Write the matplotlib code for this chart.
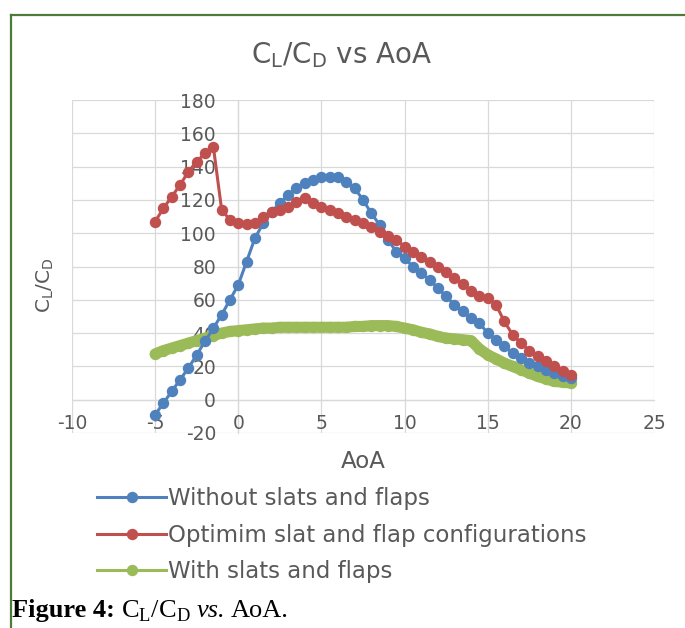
import matplotlib
matplotlib.use("Agg")
import matplotlib.pyplot as plt
from matplotlib.lines import Line2D
import numpy as np

plt.rcParams['font.family'] = ['DejaVu Sans']
plt.rcParams['axes.unicode_minus'] = False

aoa = [-5, -4.5, -4, -3.5, -3, -2.5, -2, -1.5, -1, -0.5,
       0, 0.5, 1, 1.5, 2, 2.5, 3, 3.5, 4, 4.5,
       5, 5.5, 6, 6.5, 7, 7.5, 8, 8.5, 9, 9.5,
       10, 10.5, 11, 11.5, 12, 12.5, 13, 13.5, 14, 14.5,
       15, 15.5, 16, 16.5, 17, 17.5, 18, 18.5, 19, 19.5, 20]

without_slats = [-9, -2, 5, 12, 19, 27, 35, 43, 51, 60,
                 69, 83, 97, 106, 113, 118, 123, 127, 130, 132,
                 133.5, 134, 133.5, 131, 127, 120, 112, 105, 96, 89,
                 85, 80, 76, 72, 67, 62, 57, 53, 49, 46,
                 40, 36, 32, 28, 25, 22, 20, 18, 16, 14.5, 13]

optimum = [107, 115, 122, 129, 137, 143, 148, 152, 114, 108,
           106, 105.5, 106, 110, 113, 114, 116, 118.5, 121, 118,
           116, 114, 112, 110, 108, 106, 103.5, 101, 98.5, 96,
           92, 89, 86, 83, 79.5, 76.5, 73, 69.5, 65, 62.5,
           61, 57, 47, 39, 34, 29.5, 26, 23, 20, 17, 15]

with_slats = [27.5, 29.5, 31, 32.5, 34, 35.5, 37, 38.5, 40, 41,
              41.5, 42, 42.5, 43, 43, 43.5, 43.5, 43.5, 43.5, 43.5,
              43.5, 43.5, 43.5, 43.5, 44, 44, 44.5, 44.5, 44.5, 44,
              43, 42, 40.5, 39.5, 38, 37, 36.5, 36, 35.5, 30.5,
              27, 24.5, 22, 20, 18, 16, 14, 12.5, 11, 10.5, 10]

labels = ["Without slats and flaps",
          "Optimim slat and flap configurations",
          "With slats and flaps"]
colors = ["#4F81BD", "#C0504D", "#9BBB59"]
xticks = [-10, -5, 0, 5, 10, 15, 20, 25]
yticks = [-20, 0, 20, 40, 60, 80, 100, 120, 140, 160, 180]

W, H = 685, 628
fig = plt.figure(figsize=(W / 100, H / 100), dpi=100)
fig.patch.set_facecolor("white")

ax = fig.add_axes([72 / W, (H - 433) / H, 582 / W, 333 / H])
ax.set_xlim(-10, 25)
ax.set_ylim(-20, 180)

ms = 7.2
lw = 2.2
ax.plot(aoa, with_slats, color=colors[2], lw=8, marker='o', ms=ms,
        solid_capstyle='round', zorder=3)
ax.plot(aoa, without_slats, color=colors[0], lw=lw, marker='o', ms=ms, zorder=4)
ax.plot(aoa, optimum, color=colors[1], lw=lw, marker='o', ms=ms, zorder=5)

gray = "#595959"
grid = "#d9d9d9"
ax.set_xticks(xticks)
ax.set_yticks(yticks)
ax.grid(True, color=grid, lw=0.9, zorder=0)
for s in ['top', 'right']:
    ax.spines[s].set_visible(False)
ax.spines['left'].set_position(('data', 0))
ax.spines['bottom'].set_position(('data', 0))
for s in ['left', 'bottom']:
    ax.spines[s].set_color(grid)
    ax.spines[s].set_linewidth(0.9)
    ax.spines[s].set_zorder(0.5)
ax.tick_params(axis='both', length=0, labelcolor=gray, labelsize=13.5)
ax.tick_params(axis='y', pad=16)
ax.tick_params(axis='x', pad=10)
ax.set_axisbelow(True)

fig.text(342 / W, 1 - 55 / H, r"C$_\mathregular{L}$/C$_\mathregular{D}$ vs AoA",
         ha='center', va='center', fontsize=20, color=gray)
fig.text(45 / W, 1 - 285 / H, r"C$_\mathregular{L}$/C$_\mathregular{D}$",
         ha='center', va='center', rotation=90, fontsize=14.5, color=gray)
fig.text(363 / W, 1 - 462 / H, "AoA", ha='center', va='center',
         fontsize=16.5, color=gray)

handles = [Line2D([], [], color=c, lw=lw, marker='o', ms=ms) for c in colors]
leg = fig.legend(handles, labels, loc='upper left',
                 bbox_to_anchor=(86 / W, 1 - 476 / H),
                 frameon=False, fontsize=16.5, handlelength=3.0,
                 handletextpad=0.1, labelspacing=0.58, borderpad=0)
for t in leg.get_texts():
    t.set_color(gray)

# caption built from pieces
renderer = fig.canvas.get_renderer()
cap_y = 1 - 617 / H
x0 = 12
pieces = [("Figure 4:", dict(weight='bold'), 6),
          ("C$_\\mathregular{L}$/C$_\\mathregular{D}$", dict(), 6),
          ("vs.", dict(style='italic'), 6),
          ("AoA.", dict(), 0)]
for txt, kw, gap in pieces:
    t = fig.text(x0 / W, cap_y, txt, ha='left', va='baseline', fontsize=19,
                 color='black', family='Liberation Serif', **kw)
    bb = t.get_window_extent(renderer=renderer)
    x0 = bb.x1 + gap

border = "#4E7A3A"
fig.add_artist(Line2D([11 / W, 1.0], [1 - 15 / H, 1 - 15 / H],
                      transform=fig.transFigure, color=border, lw=1.6))
fig.add_artist(Line2D([11 / W, 11 / W], [1 - 15 / H, 0],
                      transform=fig.transFigure, color=border, lw=1.6))

fig.savefig("out.png", dpi=100)
